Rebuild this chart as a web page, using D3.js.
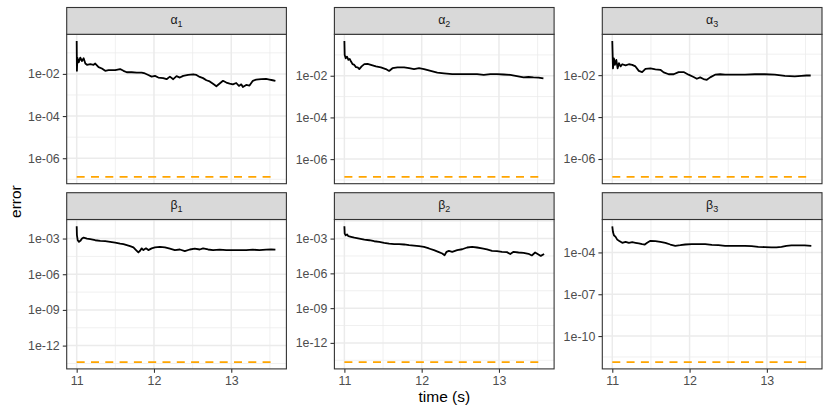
<!DOCTYPE html>
<html>
<head>
<meta charset="utf-8">
<script src="https://cdn.jsdelivr.net/npm/d3@7"></script>
<style>
  body { margin: 0; background: #fff; }
  svg { display: block; font-family: "Liberation Sans", Arial, Helvetica, sans-serif; }
</style>
</head>
<body>
<svg id="chart" width="830" height="415"></svg>
<script>
// error traces, one pair of arrays per parameter
var timeA1 = [11.000, 11.003, 11.009, 11.026, 11.047, 11.069, 11.090, 11.112, 11.133, 11.176, 11.219, 11.240, 11.283, 11.326, 11.369, 11.412, 11.455, 11.498, 11.562, 11.605, 11.648, 11.712, 11.777, 11.841, 11.884, 11.927, 11.970, 12.013, 12.056, 12.120, 12.163, 12.206, 12.249, 12.292, 12.335, 12.378, 12.442, 12.506, 12.549, 12.592, 12.635, 12.678, 12.721, 12.773, 12.807, 12.850, 12.893, 12.936, 12.979, 13.021, 13.064, 13.099, 13.129, 13.150, 13.193, 13.236, 13.279, 13.322, 13.386, 13.451, 13.494, 13.536, 13.571];
var errA1 = [3.6e-1, 1.4e-2, 5.9e-2, 3.5e-2, 5.9e-2, 4.1e-2, 5.5e-2, 3.1e-2, 2.7e-2, 2.9e-2, 2.7e-2, 3.1e-2, 2.1e-2, 1.8e-2, 1.4e-2, 1.5e-2, 1.5e-2, 1.5e-2, 1.7e-2, 1.4e-2, 1.2e-2, 1.2e-2, 1.15e-2, 1.15e-2, 1.05e-2, 8.9e-3, 7.4e-3, 8.1e-3, 6.7e-3, 6.3e-3, 5.6e-3, 7.4e-3, 5.6e-3, 7.8e-3, 6.7e-3, 8.1e-3, 8.9e-3, 9.6e-3, 8.9e-3, 7.2e-3, 6.3e-3, 5.0e-3, 4.4e-3, 3.2e-3, 2.6e-3, 3.5e-3, 4.7e-3, 3.9e-3, 3.5e-3, 3.2e-3, 3.7e-3, 2.7e-3, 3.2e-3, 2.4e-3, 3.0e-3, 2.8e-3, 4.7e-3, 5.4e-3, 5.6e-3, 5.8e-3, 5.4e-3, 5.0e-3, 4.7e-3];

var timeA2 = [11.000, 11.004, 11.017, 11.034, 11.052, 11.069, 11.086, 11.107, 11.129, 11.150, 11.172, 11.193, 11.223, 11.258, 11.300, 11.343, 11.408, 11.472, 11.536, 11.579, 11.622, 11.687, 11.773, 11.837, 11.901, 11.966, 12.030, 12.116, 12.202, 12.288, 12.395, 12.502, 12.631, 12.717, 12.803, 12.888, 12.974, 13.060, 13.146, 13.232, 13.318, 13.382, 13.446, 13.511, 13.575];
var errA2 = [4.6e-1, 1.0e-1, 6.9e-2, 8.3e-2, 5.8e-2, 6.4e-2, 4.8e-2, 3.6e-2, 3.3e-2, 2.6e-2, 2.5e-2, 2.1e-2, 2.8e-2, 3.6e-2, 3.7e-2, 3.3e-2, 2.8e-2, 2.5e-2, 2.1e-2, 1.7e-2, 2.3e-2, 2.5e-2, 2.5e-2, 2.3e-2, 2.1e-2, 2.3e-2, 2.1e-2, 1.7e-2, 1.4e-2, 1.3e-2, 1.2e-2, 1.2e-2, 1.2e-2, 1.2e-2, 1.1e-2, 1.2e-2, 1.2e-2, 1.15e-2, 1.1e-2, 9.6e-3, 8.3e-3, 8.7e-3, 8.3e-3, 8.1e-3, 7.4e-3];

var timeA3 = [11.000, 11.009, 11.021, 11.034, 11.052, 11.069, 11.086, 11.107, 11.129, 11.172, 11.215, 11.258, 11.300, 11.343, 11.386, 11.429, 11.494, 11.558, 11.622, 11.665, 11.730, 11.794, 11.858, 11.923, 11.987, 12.052, 12.094, 12.137, 12.180, 12.223, 12.266, 12.330, 12.395, 12.459, 12.545, 12.631, 12.717, 12.845, 12.974, 13.103, 13.232, 13.361, 13.446, 13.511, 13.567];
var errA3 = [4.2e-1, 2.1e-2, 6.3e-2, 3.1e-2, 5.3e-2, 2.1e-2, 3.7e-2, 2.6e-2, 3.3e-2, 2.9e-2, 3.3e-2, 3.1e-2, 2.6e-2, 1.6e-2, 1.4e-2, 2.0e-2, 2.1e-2, 1.9e-2, 1.8e-2, 1.35e-2, 1.1e-2, 1.1e-2, 1.4e-2, 1.4e-2, 1.05e-2, 8.1e-3, 6.7e-3, 7.8e-3, 6.5e-3, 6.0e-3, 7.8e-3, 1.05e-2, 1.1e-2, 1.05e-2, 1.05e-2, 1.05e-2, 1.05e-2, 1.1e-2, 1.1e-2, 1.05e-2, 9.3e-3, 8.7e-3, 9.3e-3, 9.6e-3, 9.6e-3];

var timeB1 = [11.000, 11.003, 11.013, 11.030, 11.047, 11.069, 11.090, 11.133, 11.176, 11.240, 11.305, 11.369, 11.433, 11.498, 11.562, 11.605, 11.648, 11.691, 11.734, 11.768, 11.798, 11.820, 11.841, 11.863, 11.897, 11.927, 11.970, 12.013, 12.077, 12.142, 12.206, 12.270, 12.335, 12.399, 12.464, 12.528, 12.592, 12.635, 12.700, 12.764, 12.850, 12.936, 13.021, 13.107, 13.193, 13.279, 13.365, 13.451, 13.515, 13.571];
var errB1 = [1.07e-2, 1.9e-3, 7.2e-4, 5.3e-4, 6.4e-4, 1.0e-3, 1.2e-3, 1.0e-3, 8.8e-4, 7.2e-4, 6.4e-4, 6.0e-4, 5.3e-4, 4.6e-4, 3.8e-4, 3.4e-4, 2.8e-4, 2.3e-4, 1.8e-4, 1.07e-4, 6.8e-5, 9.4e-5, 1.5e-4, 1.07e-4, 1.5e-4, 1.07e-4, 1.5e-4, 1.8e-4, 2.0e-4, 1.8e-4, 1.4e-4, 1.07e-4, 1.2e-4, 8.8e-5, 1.2e-4, 1.4e-4, 1.2e-4, 1.5e-4, 1.2e-4, 1.07e-4, 1.15e-4, 1.07e-4, 1.07e-4, 1.07e-4, 1.07e-4, 1.15e-4, 1.07e-4, 1.15e-4, 1.2e-4, 1.15e-4];

var timeB2 = [11.000, 11.004, 11.017, 11.034, 11.052, 11.086, 11.129, 11.193, 11.258, 11.322, 11.386, 11.451, 11.515, 11.579, 11.644, 11.708, 11.773, 11.837, 11.901, 11.966, 12.030, 12.094, 12.159, 12.223, 12.266, 12.296, 12.322, 12.352, 12.395, 12.459, 12.524, 12.588, 12.652, 12.717, 12.781, 12.845, 12.910, 12.974, 13.039, 13.103, 13.146, 13.189, 13.253, 13.318, 13.382, 13.425, 13.468, 13.511, 13.541, 13.584];
var errB2 = [1.15e-2, 2.7e-3, 1.9e-3, 2.3e-3, 1.6e-3, 1.4e-3, 1.2e-3, 1.0e-3, 8.2e-4, 7.2e-4, 5.9e-4, 5.2e-4, 4.3e-4, 3.7e-4, 3.3e-4, 3.3e-4, 3.1e-4, 2.7e-4, 2.5e-4, 2.2e-4, 1.9e-4, 1.4e-4, 1.0e-4, 6.8e-5, 5.2e-5, 3.7e-5, 7.2e-5, 8.8e-5, 7.2e-5, 1.0e-4, 1.2e-4, 1.7e-4, 1.9e-4, 1.7e-4, 1.4e-4, 1.15e-4, 8.8e-5, 8.2e-5, 7.2e-5, 6.8e-5, 4.6e-5, 7.2e-5, 6.3e-5, 5.9e-5, 4.9e-5, 3.5e-5, 6.3e-5, 4.3e-5, 3.2e-5, 4.6e-5];

var timeB3 = [11.000, 11.009, 11.021, 11.043, 11.064, 11.086, 11.129, 11.172, 11.215, 11.258, 11.300, 11.343, 11.386, 11.421, 11.451, 11.494, 11.558, 11.622, 11.687, 11.751, 11.815, 11.880, 11.944, 12.030, 12.116, 12.202, 12.288, 12.373, 12.459, 12.545, 12.631, 12.717, 12.803, 12.888, 12.974, 13.060, 13.124, 13.189, 13.253, 13.318, 13.403, 13.489, 13.575];
var errB3 = [7.5e-3, 2.9e-3, 1.7e-3, 1.3e-3, 8.3e-4, 6.8e-4, 4.9e-4, 5.8e-4, 4.9e-4, 5.4e-4, 4.9e-4, 4.4e-4, 3.9e-4, 3.7e-4, 4.9e-4, 6.8e-4, 6.4e-4, 5.8e-4, 4.9e-4, 3.7e-4, 3.0e-4, 3.3e-4, 3.7e-4, 3.9e-4, 3.9e-4, 3.9e-4, 3.5e-4, 3.3e-4, 3.0e-4, 3.0e-4, 3.0e-4, 3.0e-4, 2.8e-4, 2.5e-4, 2.4e-4, 2.3e-4, 2.3e-4, 2.5e-4, 3.0e-4, 3.2e-4, 3.2e-4, 3.2e-4, 3.0e-4];

// orange dashed reference level for each panel
var floorErr = [1.3e-7, 1.4e-7, 1.4e-7, 4.1e-14, 2.2e-14, 1.35e-12];

var panelSymbol = ["α", "α", "α", "β", "β", "β"];
var panelIndex = ["1", "2", "3", "1", "2", "3"];

var yTicksAlpha = ["1e-02", "1e-04", "1e-06"];
var yTicksBeta = ["1e-03", "1e-06", "1e-09", "1e-12"];
var yTicksBeta3 = ["1e-04", "1e-07", "1e-10"];
var xTicks = [11, 12, 13];

var times = [timeA1, timeA2, timeA3, timeB1, timeB2, timeB3];
var errs = [errA1, errA2, errA3, errB1, errB2, errB3];
var yTicks = [yTicksAlpha, yTicksAlpha, yTicksAlpha, yTicksBeta, yTicksBeta, yTicksBeta3];

// layout (px)
var colLeft = [66.7, 334.4, 602.3];
var rowTop = [7.5, 192.7];
var panelW = 219.7, panelH = 149.4, stripH = 26.8;

var svg = d3.select("#chart");

// shared x scale, ggplot style 5% expansion
var tExt = d3.extent(d3.merge(times));
var tPad = (tExt[1] - tExt[0]) * 0.05;
var x = d3.scaleLinear()
  .domain([tExt[0] - tPad, tExt[1] + tPad])
  .range([0, panelW]);

var xMinor = [];
for (var i = 0; i < xTicks.length + 1; i++) {
  var lo = i === 0 ? xTicks[0] - 1 : xTicks[i - 1];
  var hi = i === xTicks.length ? xTicks[i - 1] + 1 : xTicks[i];
  xMinor.push((lo + hi) / 2);
}
xMinor = xMinor.filter(function(v) { return v >= x.domain()[0] && v <= x.domain()[1]; });

for (var p = 0; p < 6; p++) {
  drawPanel(p);
}

function drawPanel(p) {
  var col = p % 3, row = Math.floor(p / 3);
  var t = times[p], e = errs[p];
  var data = t.map(function(d, i) { return {t: d, e: e[i]}; });

  // free log y scale per panel, 5% expansion in log space
  var logs = e.map(Math.log10).concat([Math.log10(floorErr[p])]);
  var lo = d3.min(logs), hi = d3.max(logs), pad = (hi - lo) * 0.05;
  var y = d3.scaleLog()
    .domain([Math.pow(10, lo - pad), Math.pow(10, hi + pad)])
    .range([panelH, 0]);

  var majors = yTicks[p].map(function(s) { return +s; });
  var majLog = majors.map(Math.log10);
  var step = majLog[0] - majLog[1];
  var minors = [];
  for (var k = -1; k < majLog.length; k++) {
    var a = k < 0 ? majLog[0] + step : majLog[k];
    minors.push(Math.pow(10, a - step / 2));
  }
  minors = minors.filter(function(v) { return v >= y.domain()[0] && v <= y.domain()[1]; });

  var g = svg.append("g")
    .attr("transform", "translate(" + colLeft[col] + "," + (rowTop[row] + stripH) + ")");

  g.append("rect")
    .attr("width", panelW).attr("height", panelH)
    .attr("fill", "#ffffff");

  // minor grid
  g.selectAll("line.ymin").data(minors).enter().append("line")
    .attr("x1", 0).attr("x2", panelW)
    .attr("y1", function(d) { return y(d); }).attr("y2", function(d) { return y(d); })
    .attr("stroke", "#ebebeb").attr("stroke-width", 0.75);
  g.selectAll("line.xmin").data(xMinor).enter().append("line")
    .attr("y1", 0).attr("y2", panelH)
    .attr("x1", function(d) { return x(d); }).attr("x2", function(d) { return x(d); })
    .attr("stroke", "#ebebeb").attr("stroke-width", 0.75);

  // major grid
  g.selectAll("line.ymaj").data(majors).enter().append("line")
    .attr("x1", 0).attr("x2", panelW)
    .attr("y1", function(d) { return y(d); }).attr("y2", function(d) { return y(d); })
    .attr("stroke", "#ebebeb").attr("stroke-width", 1.5);
  g.selectAll("line.xmaj").data(xTicks).enter().append("line")
    .attr("y1", 0).attr("y2", panelH)
    .attr("x1", function(d) { return x(d); }).attr("x2", function(d) { return x(d); })
    .attr("stroke", "#ebebeb").attr("stroke-width", 1.5);

  // reference level
  var tr = d3.extent(t);
  g.append("path")
    .datum([{t: tr[0], e: floorErr[p]}, {t: tr[1], e: floorErr[p]}])
    .attr("fill", "none")
    .attr("stroke", "#ffa500")
    .attr("stroke-width", 1.6)
    .attr("stroke-dasharray", "8,6.3")
    .attr("d", d3.line().x(function(d) { return x(d.t); }).y(function(d) { return y(d.e); }));

  // error trace
  g.append("path")
    .datum(data)
    .attr("fill", "none")
    .attr("stroke", "#000000")
    .attr("stroke-width", 1.8)
    .attr("stroke-linejoin", "round")
    .attr("d", d3.line().x(function(d) { return x(d.t); }).y(function(d) { return y(d.e); }));

  g.append("rect")
    .attr("width", panelW).attr("height", panelH)
    .attr("fill", "none").attr("stroke", "#333333").attr("stroke-width", 1.1);

  // strip
  g.append("rect")
    .attr("y", -stripH).attr("width", panelW).attr("height", stripH)
    .attr("fill", "#d9d9d9").attr("stroke", "#333333").attr("stroke-width", 1.1);
  var st = g.append("text")
    .attr("x", panelW / 2).attr("y", -stripH + 16.2)
    .attr("text-anchor", "middle")
    .attr("fill", "#1a1a1a")
    .style("font-size", "12.4px");
  st.append("tspan").text(panelSymbol[p]);
  st.append("tspan").attr("dy", 3).style("font-size", "9px").text(panelIndex[p]);

  // y axis
  var ya = g.append("g")
    .call(d3.axisLeft(y)
      .tickValues(majors)
      .tickFormat(function(d, i) { return yTicks[p][i]; })
      .tickSize(3.9)
      .tickPadding(3.1));
  styleAxis(ya);

  // x axis only under bottom row
  if (row === 1) {
    var xa = g.append("g")
      .attr("transform", "translate(0," + panelH + ")")
      .call(d3.axisBottom(x)
        .tickValues(xTicks)
        .tickFormat(d3.format("d"))
        .tickSize(3.9)
        .tickPadding(3.1));
    styleAxis(xa);
  }
}

function styleAxis(a) {
  a.select(".domain").remove();
  a.selectAll(".tick line").attr("stroke", "#333333").attr("stroke-width", 1.1);
  a.selectAll(".tick text")
    .attr("fill", "#4d4d4d")
    .style("font-size", "12.4px")
    .style("font-family", "'Liberation Sans', Arial, Helvetica, sans-serif");
}

// axis titles
svg.append("text")
  .attr("x", (colLeft[0] + colLeft[2] + panelW) / 2)
  .attr("y", 402)
  .attr("text-anchor", "middle")
  .attr("fill", "#000000")
  .style("font-size", "15.5px")
  .text("time (s)");

svg.append("text")
  .attr("transform", "translate(20.5," + ((rowTop[0] + stripH + rowTop[1] + stripH + panelH) / 2) + ") rotate(-90)")
  .attr("text-anchor", "middle")
  .attr("fill", "#000000")
  .style("font-size", "15.5px")
  .text("error");
</script>
</body>
</html>
